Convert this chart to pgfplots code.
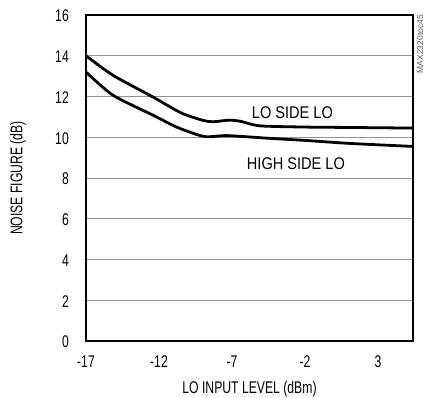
\documentclass[border=0pt]{standalone}
\usepackage{fontspec}
\setmainfont{Liberation Sans}[FakeStretch=0.72]
\newfontfamily\sidefont{Liberation Sans}
\newfontfamily\labfont{Liberation Sans}[FakeStretch=0.86]
\usepackage{pgfplots}
\pgfplotsset{compat=1.18}
\begin{document}
\begin{tikzpicture}
\begin{axis}[
  name=ax,
  scale only axis,
  width=327bp, height=326bp,
  xmin=-17, xmax=5.4, ymin=0, ymax=16,
  xtick={-17,-12,-7,-2,3},
  ytick={0,2,...,16},
  ymajorgrids,
  major grid style={gray!85, line width=0.9pt},
  tick style={draw=none},
  /pgf/number format/assume math mode=true,
  ticklabel style={font=\fontsize{17}{19}\selectfont},
  xticklabel style={anchor=center, yshift=-21bp},
  yticklabel style={anchor=east, inner sep=0pt, xshift=-17bp, yshift=-1bp},
  xlabel={LO INPUT LEVEL (dBm)},
  ylabel={NOISE FIGURE (dB)},
  every axis x label/.style={at={(axis description cs:0.5,0)}, anchor=center, yshift=-48bp, font=\fontsize{17}{19}\selectfont},
  every axis y label/.style={at={(axis description cs:-0.208,0.5)}, rotate=90, anchor=center, font=\fontsize{17}{19}\selectfont},
  clip=true,
]
\addplot[black, line width=2.8pt, smooth, tension=0.4] coordinates {
(-17,14.0) (-15.15,13.04) (-12.4,11.97) (-10.5,11.2) (-9.0,10.83) (-8.3,10.76) (-7.2,10.84) (-6.4,10.78) (-5.1,10.56) (-2,10.5) (1,10.48) (5.4,10.45)
};
\addplot[black, line width=2.8pt, smooth, tension=0.4] coordinates {
(-17,13.2) (-15.15,12.06) (-12.4,11.08) (-10.8,10.5) (-9.4,10.13) (-8.7,10.02) (-7.3,10.08) (-4.5,9.95) (-2.1,9.85) (1,9.7) (5.4,9.55)
};
\node[font=\labfont\fontsize{17}{19}\selectfont] at (axis cs:-2.86,11.2) {LO SIDE LO};
\node[font=\labfont\fontsize{17}{19}\selectfont] at (axis cs:-2.62,8.68) {HIGH SIDE LO};
\end{axis}
\draw[line width=2.8pt] (ax.south west) rectangle (ax.north east);
\node[font=\sidefont\fontsize{8.5}{9}\selectfont, rotate=90, anchor=north east, inner sep=0pt, gray!70!black] at ([xshift=4bp]ax.north east) {MAX2320toc45};
\pgfresetboundingbox
\path[use as bounding box] ([shift={(-86bp,-57bp)}]ax.south west) rectangle ([shift={(12bp,15bp)}]ax.north east);
\end{tikzpicture}
\end{document}
